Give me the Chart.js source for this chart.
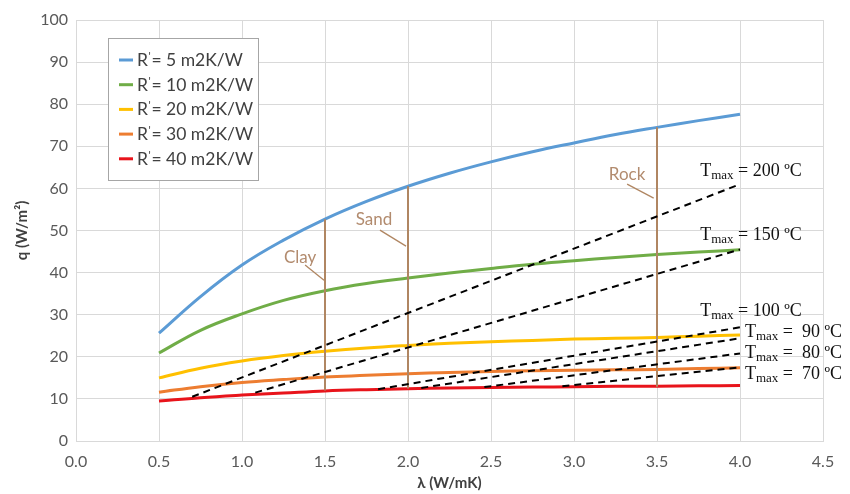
<!DOCTYPE html>
<html><head><meta charset="utf-8">
<script src="https://cdn.jsdelivr.net/npm/chart.js@4/dist/chart.umd.min.js"></script>
<style>html,body{margin:0;padding:0;background:#fff}#wrap{width:850px;height:494px}</style>
</head><body><div id="wrap"><canvas id="c" width="850" height="494"></canvas></div>
<script>
// ---------- data ----------
const lambdaValues = [0.5, 0.75, 1.0, 1.25, 1.5, 1.75, 2.0, 2.25, 2.5, 2.75, 3.0, 3.25, 3.5, 3.75, 4.0];
const resistanceLabels = ["5", "10", "20", "30", "40"];
const qR5  = [25.6, 34.3, 41.8, 47.7, 52.7, 56.9, 60.5, 63.6, 66.3, 68.7, 70.8, 72.8, 74.5, 76.1, 77.6];
const qR10 = [20.9, 26.3, 30.2, 33.4, 35.7, 37.4, 38.7, 39.9, 41.0, 42.0, 42.8, 43.6, 44.3, 44.9, 45.4];
const qR20 = [15.0, 17.3, 19.0, 20.3, 21.3, 22.1, 22.7, 23.2, 23.6, 23.9, 24.2, 24.4, 24.6, 24.9, 25.2];
const qR30 = [11.6, 12.9, 13.9, 14.6, 15.2, 15.6, 16.0, 16.3, 16.5, 16.7, 16.8, 16.9, 17.0, 17.2, 17.4];
const qR40 = [9.5, 10.3, 10.9, 11.4, 11.9, 12.2, 12.4, 12.6, 12.7, 12.8, 12.9, 13.0, 13.0, 13.1, 13.2];

const tmaxLabels      = ["200", "150", "100", " 90", " 80", " 70"];
const tmaxStartLambda = [0.70, 1.08, 1.82, 2.08, 2.46, 2.93];
const tmaxStartQ      = [10.5, 11.5, 12.3, 12.6, 12.8, 13.0];
const tmaxEndLambda   = [4.0, 4.0, 4.0, 4.0, 4.0, 4.0];
const tmaxEndQ        = [61.0, 45.5, 27.0, 24.4, 20.8, 17.5];

const soilLabels = ["Clay", "Sand", "Rock"];
const soilLambda = [1.5, 2.0, 3.5];
const soilQLow   = [12.0, 12.5, 12.9];
const soilQHigh  = [52.7, 60.5, 74.5];

const xTickLabels = ["0.0","0.5","1.0","1.5","2.0","2.5","3.0","3.5","4.0","4.5"];
const yTickLabels = ["0","10","20","30","40","50","60","70","80","90","100"];

// ---------- styles / layout ----------
const curveColors = ["#5B9BD5", "#70AD47", "#FFC000", "#ED7D31", "#E8141B"];
const brown = "#B08662";
const brownText = "#B28B6E";
// label anchor positions (data coords) for annotation texts
const tmaxLabelPos = [[3.76, 64.4], [3.76, 49.2], [3.76, 31.1], [4.03, 26.1], [4.03, 21.1], [4.03, 16.2]];
const soilTextPos  = [[1.35, 43.7], [1.795, 52.5], [3.32, 63.2]];
const soilLeader   = [[[1.38, 41.8], [1.494, 38.2]], [[1.831, 50.1], [1.988, 46.3]], [[3.32, 61.0], [3.48, 57.7]]];

const curveSeries = [qR5, qR10, qR20, qR30, qR40];
const datasets = [];
curveSeries.forEach((s, i) => {
  datasets.push({
    label: "R' = " + resistanceLabels[i] + " m2K/W",
    data: lambdaValues.map((x, j) => ({x: x, y: s[j]})),
    showLine: true, borderColor: curveColors[i], backgroundColor: curveColors[i],
    borderWidth: 3, pointRadius: 0, tension: 0.4, order: 3, isCurve: true
  });
});
soilLabels.forEach((n, i) => {
  datasets.push({
    label: n,
    data: [{x: soilLambda[i], y: soilQLow[i]}, {x: soilLambda[i], y: soilQHigh[i]}],
    showLine: true, borderColor: brown, borderWidth: 2, pointRadius: 0, order: 2
  });
});
tmaxLabels.forEach((t, i) => {
  datasets.push({
    label: "Tmax " + t,
    data: [{x: tmaxStartLambda[i], y: tmaxStartQ[i]}, {x: tmaxEndLambda[i], y: tmaxEndQ[i]}],
    showLine: true, borderColor: "#000", borderWidth: 2, borderDash: [7, 5], pointRadius: 0, order: 1
  });
});

const annotPlugin = {
  id: 'annot',
  afterDatasetsDraw(chart) {
    const ctx = chart.ctx, xs = chart.scales.x, ys = chart.scales.y;
    ctx.save();
    // soil labels
    ctx.font = '17px Lato';
    ctx.fillStyle = brownText; ctx.strokeStyle = brown; ctx.lineWidth = 1.3;
    ctx.textAlign = 'center'; ctx.textBaseline = 'middle';
    soilLabels.forEach((n, i) => {
      ctx.fillText(n, xs.getPixelForValue(soilTextPos[i][0]), ys.getPixelForValue(soilTextPos[i][1]));
      ctx.beginPath();
      ctx.moveTo(xs.getPixelForValue(soilLeader[i][0][0]), ys.getPixelForValue(soilLeader[i][0][1]));
      ctx.lineTo(xs.getPixelForValue(soilLeader[i][1][0]), ys.getPixelForValue(soilLeader[i][1][1]));
      ctx.stroke();
    });
    // Tmax labels
    ctx.fillStyle = '#111'; ctx.textAlign = 'left'; ctx.textBaseline = 'alphabetic';
    tmaxLabels.forEach((t, i) => {
      let x = xs.getPixelForValue(tmaxLabelPos[i][0]);
      const y = ys.getPixelForValue(tmaxLabelPos[i][1]) + 6;
      ctx.font = '18px "Liberation Serif"';
      ctx.fillText('T', x, y); x += ctx.measureText('T').width;
      ctx.font = '13px "Liberation Serif"';
      ctx.fillText('max', x, y + 3); x += ctx.measureText('max').width;
      ctx.font = '18px "Liberation Serif"';
      ctx.fillText(' = ' + t + ' \u00BAC', x, y);
    });
    // legend
    const lx = 108, ly = 38, lw = 150, lh = 142;
    ctx.fillStyle = '#fff'; ctx.fillRect(lx, ly, lw, lh);
    ctx.strokeStyle = '#A6A6A6'; ctx.lineWidth = 1;
    ctx.strokeRect(lx + 0.5, ly + 0.5, lw, lh);
    chart.data.datasets.filter(d => d.isCurve).forEach((d, i) => {
      const ry = ly + 22 + i * 24.7;
      ctx.strokeStyle = d.borderColor; ctx.lineWidth = 3;
      ctx.beginPath(); ctx.moveTo(lx + 11, ry); ctx.lineTo(lx + 25, ry); ctx.stroke();
      ctx.fillStyle = '#404040'; ctx.textBaseline = 'alphabetic';
      let tx = lx + 29;
      const by = ry + 6;
      ctx.font = '17.5px Lato';
      ctx.fillText('R', tx, by); tx += ctx.measureText('R').width + 0.5;
      ctx.font = '11px Lato';
      ctx.fillText("'", tx, by - 6); tx += 3;
      ctx.font = '17.5px Lato';
      ctx.fillText('= ' + resistanceLabels[i] + ' m2K/W', tx, by);
    });
    ctx.restore();
  }
};

new Chart(document.getElementById('c'), {
  type: 'scatter',
  data: {datasets: datasets},
  options: {
    responsive: false, animation: false, devicePixelRatio: 1,
    layout: {padding: {top: 20, right: 27, left: 0, bottom: 0}},
    plugins: {legend: {display: false}, tooltip: {enabled: false}},
    scales: {
      x: {
        type: 'linear', min: 0, max: 4.5,
        afterBuildTicks: s => { s.ticks = xTickLabels.map(v => ({value: parseFloat(v)})); },
        ticks: {callback: (v) => v.toFixed(1), font: {family: 'Lato', size: 16}, color: '#595959', padding: 11, maxRotation: 0},
        grid: {color: '#D9D9D9', drawTicks: false},
        border: {color: '#D9D9D9'},
        title: {display: true, text: '\u03BB (W/mK)', font: {family: 'Lato', size: 15, weight: 'bold'}, color: '#404040', padding: {top: 0, bottom: 2}},
        afterFit: s => { s.height = 53; }
      },
      y: {
        type: 'linear', min: 0, max: 100,
        afterBuildTicks: s => { s.ticks = yTickLabels.map(v => ({value: parseFloat(v)})); },
        ticks: {font: {family: 'Lato', size: 16}, color: '#595959', padding: 8},
        grid: {color: '#D9D9D9', drawTicks: false},
        border: {color: '#D9D9D9'},
        title: {display: true, text: 'q (W/m\u00B2)', font: {family: 'Lato', size: 15, weight: 'bold'}, color: '#404040', padding: {top: 13, bottom: 0}},
        afterFit: s => { s.width = 76; }
      }
    }
  },
  plugins: [annotPlugin]
});
</script>
</body></html>
